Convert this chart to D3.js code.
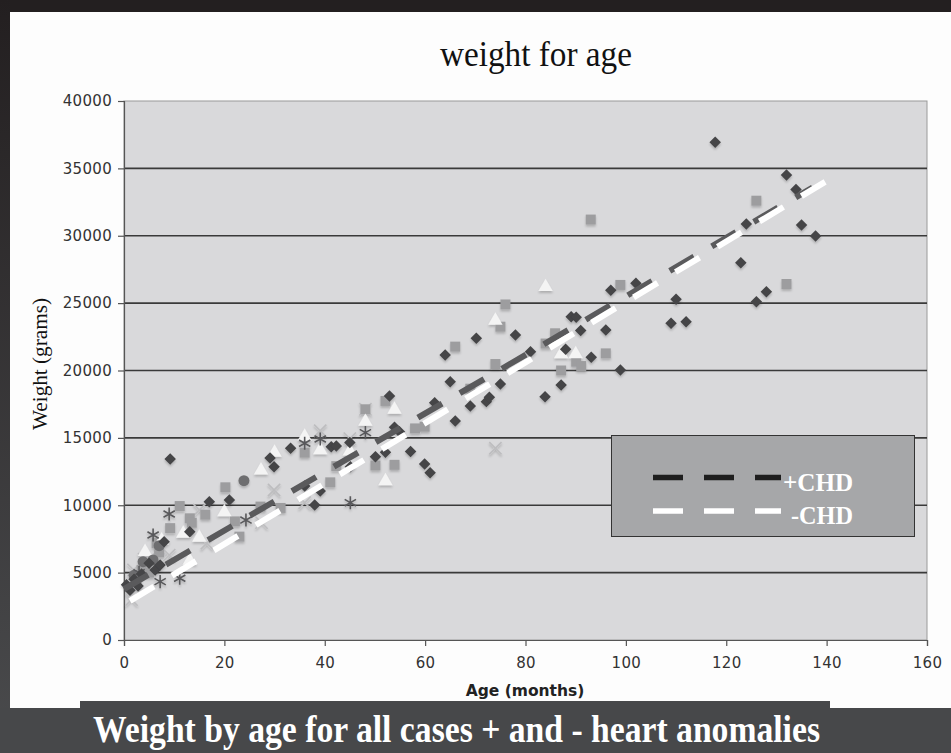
<!DOCTYPE html>
<html>
<head>
<meta charset="utf-8">
<script src="https://cdn.jsdelivr.net/npm/d3@7/dist/d3.min.js"></script>
<style>
  html, body { margin: 0; padding: 0; background: #fdfdfd; }
  svg { display: block; }
</style>
</head>
<body>
<svg id="chart" width="951" height="753"></svg>
<script>
// ---------------- DATA ----------------
const xTicks = [0, 20, 40, 60, 80, 100, 120, 140, 160];
const yTicks = [0, 5000, 10000, 15000, 20000, 25000, 30000, 35000, 40000];

// Dark diamonds
const diamondAge = [0.5, 1.2, 2, 2.8, 3.5, 5, 6.2, 7.2, 8, 9.2, 13.1, 17, 21, 29.1, 29.9, 33.2, 36, 38, 39.1, 41.3, 42.3, 45, 45.1, 50.1, 52.1, 52.9, 53.9, 54.9, 57.1, 59.9, 61, 61.9, 64, 65, 66, 69, 70.2, 72.2, 72.8, 75, 78, 81, 83.9, 87.1, 88, 89.1, 90.1, 91, 93.1, 96, 97, 98.9, 102, 109, 110, 112, 117.8, 122.9, 124, 126, 128, 132, 133.9, 135, 137.8];
const diamondWeight = [4100, 3700, 4500, 4000, 4900, 5700, 5200, 5570, 7300, 13430, 8040, 10260, 10390, 13500, 12860, 14230, 11430, 10020, 11060, 14350, 14400, 14650, 12860, 13600, 13930, 18110, 15780, 15460, 13980, 13060, 12420, 17610, 21150, 19170, 16250, 17370, 22390, 17690, 18010, 19000, 22630, 21400, 18060, 18920, 21570, 23990, 23950, 22960, 20980, 23000, 25950, 20040, 26470, 23500, 25280, 23620, 36930, 28000, 30870, 25110, 25850, 34510, 33440, 30800, 29980];

// Gray squares
const squareAge = [2.5, 3.5, 5, 6.5, 7, 9.2, 11.1, 13.1, 13.5, 16.2, 20.2, 22.1, 23, 27.2, 31.2, 36, 41.1, 42.3, 48.1, 50.1, 52.1, 53.9, 58, 59.9, 66, 69, 74, 75, 76, 84, 85.9, 87.1, 90.1, 91.1, 93, 96, 98.9, 126, 132];
const squareWeight = [4300, 5200, 5000, 7200, 6500, 8300, 9940, 9030, 8700, 9300, 11330, 8800, 7670, 9900, 9800, 13900, 11700, 12900, 17120, 12950, 17740, 13000, 15700, 15830, 21770, 18650, 20480, 23250, 24900, 22000, 22760, 20000, 20650, 20330, 31200, 21270, 26350, 32600, 26420];

// Light triangles
const triangleAge = [4.2, 7.5, 11.8, 13.1, 15, 20, 27.3, 30, 36, 39.1, 45, 48.1, 52.1, 53.9, 74, 84, 87.1, 90];
const triangleWeight = [6550, 7400, 7900, 5900, 7600, 9500, 12600, 13900, 15100, 14100, 14000, 16200, 11800, 17100, 23700, 26200, 21220, 21220];

// Light x marks
const crossAge = [1.5, 1.9, 4, 7, 9, 15, 16.5, 27.4, 29.9, 36, 39.1, 45, 48.1, 74];
const crossWeight = [3000, 5200, 6000, 6800, 6300, 9650, 7180, 8710, 11130, 10190, 15530, 14940, 17120, 14230];

// Dark asterisks
const starAge = [3, 5.8, 7.2, 9, 11.1, 24.3, 36, 39.1, 45.1, 48.1];
const starWeight = [5000, 7790, 4330, 9350, 4580, 8900, 14600, 14920, 10190, 15390];

// Gray circles
const circleAge = [2, 3.8, 5.8, 7, 23.9];
const circleWeight = [4800, 5810, 5940, 7000, 11820];

// Plus marks
const plusAge = [24.1];
const plusWeight = [12600];

// Trend lines (start / end)
const trendPosAge = [0, 137.2];
const trendPosWeight = [3780, 33580];
const trendNegAge = [1.2, 139.7];
const trendNegWeight = [2900, 34000];

const legendLabels = ["+CHD", "-CHD"];

// ---------------- DRAW ----------------
const svg = d3.select("#chart");
const W = 951, H = 753;
const plot = { left: 124, right: 927, top: 101, bottom: 640 };

const x = d3.scaleLinear().domain([0, 160]).range([plot.left, plot.right]);
const y = d3.scaleLinear().domain([0, 40000]).range([plot.bottom, plot.top]);

const defs = svg.append("defs");
const lg = defs.append("linearGradient").attr("id", "leftband").attr("x1", 0).attr("y1", 0).attr("x2", 0).attr("y2", 1);
lg.append("stop").attr("offset", "0%").attr("stop-color", "#231f20");
lg.append("stop").attr("offset", "100%").attr("stop-color", "#4a4b4d");
const f = defs.append("filter").attr("id", "shadow").attr("x", "-50%").attr("y", "-50%").attr("width", "200%").attr("height", "200%");
f.append("feDropShadow").attr("dx", 0).attr("dy", 2).attr("stdDeviation", 0.8)
  .attr("flood-color", "#000").attr("flood-opacity", 0.2);

// page background & frame
svg.append("rect").attr("x", 0).attr("y", 0).attr("width", W).attr("height", H).attr("fill", "#fdfdfd");
svg.append("rect").attr("x", 0).attr("y", 0).attr("width", W).attr("height", 12).attr("fill", "#231f20");
svg.append("rect").attr("x", 0).attr("y", 0).attr("width", 10).attr("height", H).attr("fill", "url(#leftband)");

// title
svg.append("text").attr("x", 536).attr("y", 66).attr("text-anchor", "middle")
  .attr("font-family", "'Liberation Serif', 'Times New Roman', serif").attr("font-size", 36)
  .attr("textLength", 192).attr("lengthAdjust", "spacingAndGlyphs")
  .attr("fill", "#111").text("weight for age");

// plot area
svg.append("rect").attr("x", plot.left).attr("y", plot.top)
  .attr("width", plot.right - plot.left).attr("height", plot.bottom - plot.top)
  .attr("fill", "#d9d9db").attr("stroke", "#9a9a9a").attr("stroke-width", 1);

// gridlines
svg.append("g").selectAll("line").data(yTicks.filter(d => d > 0 && d < 40000)).join("line")
  .attr("x1", plot.left).attr("x2", plot.right)
  .attr("y1", d => y(d)).attr("y2", d => y(d))
  .attr("stroke", "#3a3a3a").attr("stroke-width", 1.6);

// axes
const yAxis = d3.axisLeft(y).tickValues(yTicks).tickSize(6).tickPadding(6).tickFormat(d3.format("d"));
const gy = svg.append("g").attr("transform", `translate(${plot.left},0)`).call(yAxis);
const xAxis = d3.axisBottom(x).tickValues(xTicks).tickSize(6).tickPadding(11).tickFormat(d3.format("d"));
const gx = svg.append("g").attr("transform", `translate(0,${plot.bottom})`).call(xAxis);
[gx, gy].forEach(g => {
  g.select(".domain").attr("stroke", "#555").attr("stroke-width", 1.2);
  g.selectAll(".tick line").attr("stroke", "#555").attr("stroke-width", 1.2);
  g.selectAll("text").attr("font-family", "'DejaVu Sans', Verdana, sans-serif")
    .attr("font-size", 15).attr("letter-spacing", 0.3).attr("fill", "#333");
});

// axis titles
svg.append("text").attr("x", 525).attr("y", 696).attr("text-anchor", "middle")
  .attr("font-family", "'DejaVu Sans', Verdana, sans-serif").attr("font-weight", "bold")
  .attr("font-size", 15.5).attr("fill", "#222").text("Age (months)");
svg.append("text").attr("transform", "translate(47,364) rotate(-90)").attr("text-anchor", "middle")
  .attr("font-family", "'Liberation Serif', 'Times New Roman', serif").attr("font-size", 21)
  .attr("textLength", 132).attr("lengthAdjust", "spacingAndGlyphs")
  .attr("fill", "#111").text("Weight (grams)");

// markers
const mk = svg.append("g").attr("filter", "url(#shadow)");
function series(ages, weights, opts) {
  const data = ages.map((a, i) => [a, weights[i]]);
  mk.append("g").selectAll("path").data(data).join("path")
    .attr("transform", d => `translate(${x(d[0])},${y(d[1])})${opts.rotate ? " rotate(45)" : ""}`)
    .attr("d", d3.symbol().type(opts.type).size(opts.size))
    .attr("fill", opts.fill || "none")
    .attr("stroke", opts.stroke || "none")
    .attr("stroke-width", opts.sw || 0);
}
series(crossAge, crossWeight, { type: d3.symbolTimes, size: 100, stroke: "#bdbdbf", sw: 1.6 });
series(squareAge, squareWeight, { type: d3.symbolSquare, size: 100, fill: "#9d9d9f" });
series(triangleAge, triangleWeight, { type: d3.symbolTriangle, size: 90, fill: "#f4f4f4" });
series(circleAge, circleWeight, { type: d3.symbolCircle, size: 95, fill: "#6e6e70" });
series(starAge, starWeight, { type: d3.symbolAsterisk, size: 120, stroke: "#59595b", sw: 1.6 });
series(plusAge, plusWeight, { type: d3.symbolPlus, size: 110, fill: "#8a8a8a" });
series(diamondAge, diamondWeight, { type: d3.symbolSquare, size: 66, fill: "#444446", rotate: true });

// trend lines
const line = d3.line().x(d => x(d[0])).y(d => y(d[1]));
svg.append("path").datum(trendPosAge.map((a, i) => [a, trendPosWeight[i]]))
  .attr("d", line).attr("fill", "none").attr("stroke", "#5a5a5c").attr("stroke-width", 6)
  .attr("stroke-dasharray", "28,20.6");
svg.append("path").datum(trendNegAge.map((a, i) => [a, trendNegWeight[i]]))
  .attr("d", line).attr("fill", "none").attr("stroke", "#ffffff").attr("stroke-width", 6)
  .attr("stroke-dasharray", "28,21");

// legend
const leg = svg.append("g");
leg.append("rect").attr("x", 611.5).attr("y", 435.5).attr("width", 303).attr("height", 101)
  .attr("fill", "#a6a7a9").attr("stroke", "#333").attr("stroke-width", 1);
const legColors = ["#1e1e1e", "#ffffff"];
const legY = [477.5, 511];
legendLabels.forEach((lab, i) => {
  leg.append("line").attr("x1", 653).attr("x2", 781).attr("y1", legY[i]).attr("y2", legY[i])
    .attr("stroke", legColors[i]).attr("stroke-width", 5.5).attr("stroke-dasharray", "30,21");
  leg.append("text").attr("x", i === 0 ? 783 : 791).attr("y", legY[i] + 13)
    .attr("font-family", "'Liberation Serif', 'Times New Roman', serif").attr("font-weight", "bold")
    .attr("font-size", 25).attr("textLength", i === 0 ? 70 : 62).attr("lengthAdjust", "spacingAndGlyphs")
    .attr("fill", "#ffffff").text(lab);
});

// bottom caption band
svg.append("rect").attr("x", 0).attr("y", 708).attr("width", W).attr("height", H - 708).attr("fill", "#47484a");
svg.append("rect").attr("x", 80).attr("y", 701).attr("width", 750).attr("height", H - 701).attr("fill", "#47484a");
svg.append("text").attr("x", 93).attr("y", 742)
  .attr("font-family", "'Liberation Serif', 'Times New Roman', serif").attr("font-weight", "bold")
  .attr("font-size", 38).attr("textLength", 727).attr("lengthAdjust", "spacingAndGlyphs")
  .attr("fill", "#ffffff")
  .text("Weight by age for all cases + and - heart anomalies");
</script>
</body>
</html>
